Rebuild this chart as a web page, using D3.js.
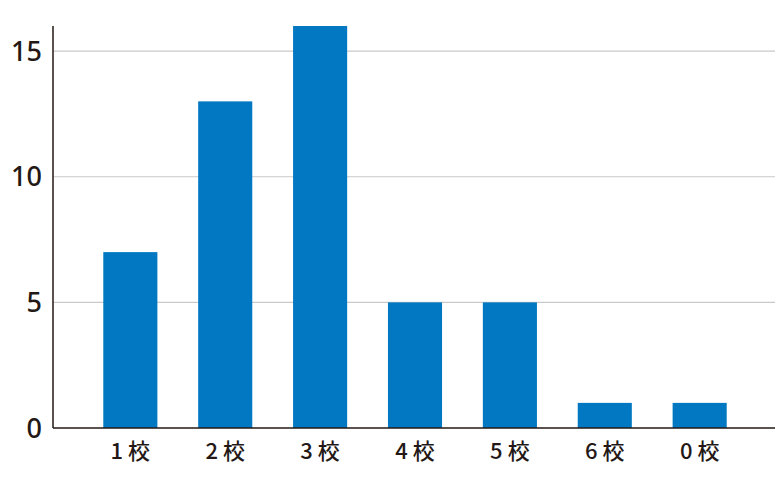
<!DOCTYPE html>
<html>
<head>
<meta charset="utf-8">
<script src="https://cdn.jsdelivr.net/npm/d3@7"></script>
<style>
	body { margin: 0; background: #fff; }
	svg text { fill: #231815; }
</style>
</head>
<body>
<div class="chart"></div>
<script>
const categories = ['1校', '2校', '3校', '4校', '5校', '6校', '0校']
const counts = [7, 13, 16, 5, 5, 1, 1]
const yTicks = [0, 5, 10, 15]

const width = 781
const height = 481
const plotLeft = 53
const plotRight = 777
const plotTop = 26
const plotBottom = 428
const labelSpacing = 5

const svg = d3.select('.chart')
	.append('svg')
	.attr('width', width)
	.attr('height', height)

const scaleX = d3.scaleBand()
	.domain(categories)
	.range([plotLeft, plotRight])
	.paddingInner(0.43)
	.paddingOuter(0.53)

const scaleY = d3.scaleLinear()
	.domain([0, 16])
	.range([plotBottom, plotTop])

// gridlines
svg.append('g')
	.attr('class', 'grid')
	.selectAll('line')
	.data(yTicks.filter(d => d > 0))
	.enter().append('line')
		.attr('x1', plotLeft)
		.attr('x2', 775)
		.attr('y1', d => scaleY(d))
		.attr('y2', d => scaleY(d))
		.attr('stroke', '#c9c9c9')
		.attr('stroke-width', 1.2)

// bars
svg.append('g')
	.selectAll('rect')
	.data(counts)
	.enter().append('rect')
		.attr('x', (d, i) => scaleX(categories[i]))
		.attr('y', d => scaleY(d))
		.attr('width', scaleX.bandwidth())
		.attr('height', d => scaleY(0) - scaleY(d))
		.attr('fill', '#0178c1')

// axis lines
svg.append('line')
	.attr('x1', plotLeft).attr('x2', plotLeft)
	.attr('y1', plotTop).attr('y2', plotBottom)
	.attr('stroke', '#231815')
	.attr('stroke-width', 1.5)

svg.append('line')
	.attr('x1', plotLeft).attr('x2', 775)
	.attr('y1', plotBottom).attr('y2', plotBottom)
	.attr('stroke', '#231815')
	.attr('stroke-width', 1.5)

// y tick labels
svg.append('g')
	.selectAll('text')
	.data(yTicks)
	.enter().append('text')
		.attr('x', 42)
		.attr('y', d => scaleY(d))
		.attr('dy', '0.36em')
		.attr('text-anchor', 'end')
		.style('font-family', '"Noto Sans", sans-serif')
		.style('font-size', '27px')
		.style('font-weight', 500)
		.text(d => d)

// x tick labels
svg.append('g')
	.selectAll('text')
	.data(categories)
	.enter().append('text')
		.attr('x', d => scaleX(d) + scaleX.bandwidth() / 2 + labelSpacing / 2)
		.attr('y', 459)
		.attr('text-anchor', 'middle')
		.style('font-family', '"Noto Sans CJK JP", sans-serif')
		.style('font-size', '22px')
		.style('font-weight', 500)
		.style('letter-spacing', `${labelSpacing}px`)
		.text(d => d)
</script>
</body>
</html>
